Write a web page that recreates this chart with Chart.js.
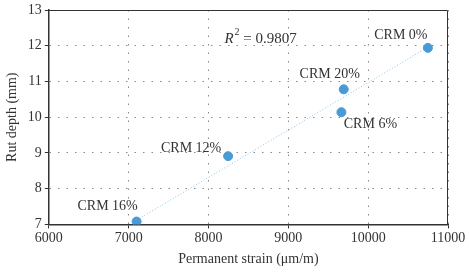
<!DOCTYPE html>
<html>
<head>
<meta charset="utf-8">
<script src="https://cdn.jsdelivr.net/npm/chart.js@4.4.0/dist/chart.umd.min.js"></script>
<style>
  html, body { margin: 0; padding: 0; background: #fff; }
  #wrap { width: 469px; height: 272px; }
</style>
</head>
<body>
<div id="wrap"><canvas id="chart"></canvas></div>
<script>
const mixes = ['CRM 0%', 'CRM 20%', 'CRM 6%', 'CRM 12%', 'CRM 16%'];
const strain = [10748, 9694, 9665, 8246, 7100];
const rutDepth = [11.94, 10.78, 10.14, 8.91, 7.08];
// trend line ends
const trendX = [7100, 10748];
const trendY = [7.12, 11.96];
const r2Text = '0.9807';

const labelOffsets = [[-27, -13], [-14, -15], [29, 12], [-37, -8], [-29, -15]];

const serif = "'Liberation Serif', 'DejaVu Serif', serif";

const pointLabels = {
  id: 'pointLabels',
  afterDatasetsDraw(chart) {
    const { ctx, chartArea: { left, top, right, bottom }, scales: { x, y } } = chart;
    ctx.save();
    // box top / right
    ctx.strokeStyle = '#333';
    ctx.lineWidth = 1;
    ctx.beginPath();
    ctx.moveTo(left, top + 0.5);
    ctx.lineTo(right - 0.5, top + 0.5);
    ctx.lineTo(right - 0.5, bottom);
    ctx.stroke();

    ctx.fillStyle = '#333';
    ctx.font = '14px ' + serif;
    ctx.textAlign = 'center';
    ctx.textBaseline = 'middle';
    mixes.forEach((m, i) => {
      const px = x.getPixelForValue(strain[i]) + labelOffsets[i][0];
      const py = y.getPixelForValue(rutDepth[i]) + labelOffsets[i][1];
      ctx.fillText(m, px, py);
    });

    // R^2 label
    const rx = x.getPixelForValue(8200);
    const ry = y.getPixelForValue(12.2);
    ctx.textAlign = 'left';
    ctx.font = 'italic 15px ' + serif;
    ctx.fillText('R', rx, ry);
    let w = ctx.measureText('R').width;
    ctx.font = '10px ' + serif;
    ctx.fillText('2', rx + w + 1, ry - 6);
    w += ctx.measureText('2').width + 1;
    ctx.font = '15px ' + serif;
    ctx.fillText(' = ' + r2Text, rx + w, ry);
    ctx.restore();
  },
};

const config = {
  type: 'scatter',
  data: {
    datasets: [
      {
        label: 'Points',
        data: strain.map((v, i) => ({ x: v, y: rutDepth[i] })),
        backgroundColor: '#4a9bd5',
        borderColor: '#4a9bd5',
        pointRadius: 4.5,
        order: 1,
      },
      {
        label: 'Trend',
        type: 'line',
        data: trendX.map((v, i) => ({ x: v, y: trendY[i] })),
        borderColor: '#8cc3e8',
        borderWidth: 1,
        borderDash: [1, 2],
        pointRadius: 0,
        fill: false,
        order: 2,
      },
    ],
  },
  options: {
    responsive: true,
    maintainAspectRatio: false,
    animation: false,
    layout: { padding: { top: 0, right: 21, left: 4, bottom: 0 } },
    scales: {
      x: {
        type: 'linear',
        min: 6000,
        max: 11000,
        ticks: { stepSize: 1000, color: '#333', font: { family: serif, size: 14 }, padding: 2, maxRotation: 0, callback: v => String(v) },
        grid: { color: '#8a8a8a', lineWidth: 1, tickLength: 4, tickColor: '#333', tickBorderDash: [] },
        border: { display: true, color: '#333', width: 1.5, dash: [1.5, 7] },
        title: { display: true, text: 'Permanent strain (μm/m)', color: '#333', font: { family: serif, size: 14 }, padding: { top: 2, bottom: 4 } },
      },
      y: {
        type: 'linear',
        min: 7,
        max: 13,
        ticks: { stepSize: 1, color: '#333', font: { family: serif, size: 14, lineHeight: 1 }, padding: 3, callback: v => String(v) },
        grid: { color: '#8a8a8a', lineWidth: 1, tickLength: 4, tickColor: '#333', tickBorderDash: [] },
        border: { display: true, color: '#333', width: 1.5, dash: [1.5, 7] },
        title: { display: true, text: 'Rut depth (mm)', color: '#333', font: { family: serif, size: 14 }, padding: { top: 0, bottom: 4 } },
      },
    },
    plugins: {
      legend: { display: false },
      tooltip: { enabled: false },
    },
  },
  plugins: [pointLabels],
};

new Chart(document.getElementById('chart'), config);
</script>
</body>
</html>
